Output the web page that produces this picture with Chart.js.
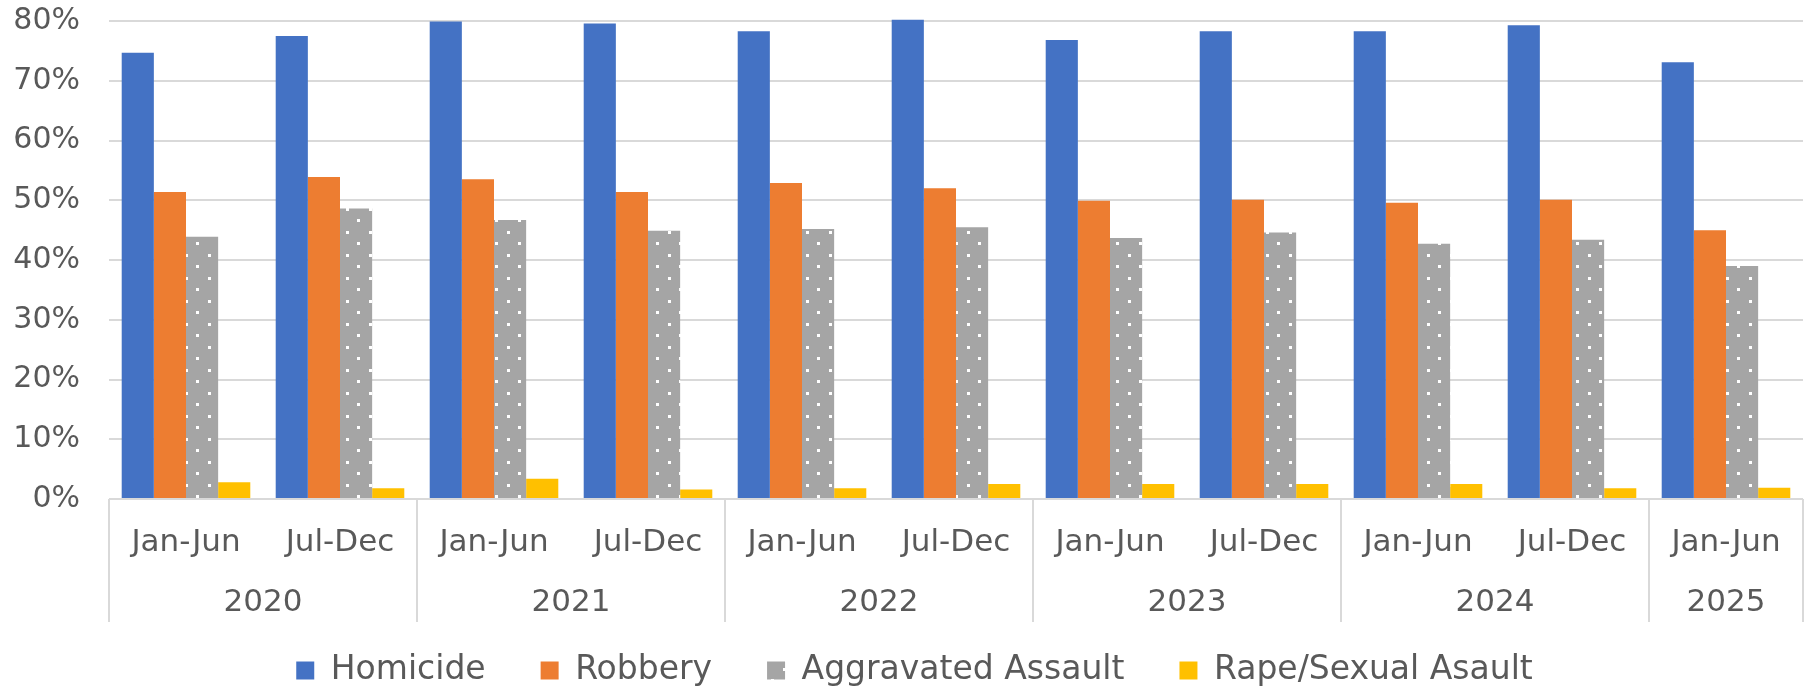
<!DOCTYPE html>
<html>
<head>
<meta charset="utf-8">
<style>
  html, body { margin: 0; padding: 0; background: #ffffff; }
  #wrap { width: 1816px; height: 693px; position: relative; }
</style>
<script src="https://cdn.jsdelivr.net/npm/chart.js@4.4.1/dist/chart.umd.min.js"></script>
</head>
<body>
<div id="wrap"><canvas id="chart" width="1816" height="693"></canvas></div>
<script>
// ---- Data ----
const periods = ['Jan-Jun', 'Jul-Dec', 'Jan-Jun', 'Jul-Dec', 'Jan-Jun', 'Jul-Dec',
                 'Jan-Jun', 'Jul-Dec', 'Jan-Jun', 'Jul-Dec', 'Jan-Jun'];
const years = ['2020', '2021', '2022', '2023', '2024', '2025'];
const periodsPerYear = [2, 2, 2, 2, 2, 1];

const homicide          = [74.7, 77.5, 79.9, 79.6, 78.3, 80.2, 76.8, 78.3, 78.3, 79.3, 73.1];
const robbery           = [51.4, 53.9, 53.5, 51.4, 52.9, 52.0, 49.9, 50.1, 49.6, 50.1, 45.0];
const aggravatedAssault = [43.9, 48.6, 46.7, 44.9, 45.2, 45.5, 43.7, 44.6, 42.7, 43.4, 39.0];
const rapeSexualAssault = [2.8, 1.8, 3.4, 1.6, 1.8, 2.5, 2.5, 2.5, 2.5, 1.8, 1.9];

const seriesNames = ['Homicide', 'Robbery', 'Aggravated Assault', 'Rape/Sexual Asault'];
const yMin = 0, yMax = 80, yStep = 10;

// ---- Styles ----
const FONT = '"DejaVu Sans", Verdana, sans-serif';
const TEXT = '#595959';
const GRID = '#d9d9d9';

function dotPattern() {
  const c = document.createElement('canvas');
  c.width = 23; c.height = 23;
  const g = c.getContext('2d');
  g.fillStyle = '#a5a5a5';
  g.fillRect(0, 0, 23, 23);
  g.fillStyle = '#ffffff';
  g.fillRect(1, 1, 3, 3);
  g.fillRect(12, 12, 3, 3);
  return g.createPattern(c, 'repeat');
}

const yearAxisPlugin = {
  id: 'yearAxis',
  afterDraw(chart) {
    const { ctx, chartArea } = chart;
    const xs = chart.scales.x;
    const bottom = chartArea.bottom;
    const edge = i => {
      if (i <= 0) return chartArea.left;
      if (i >= periods.length) return chartArea.right;
      return (xs.getPixelForValue(i - 1) + xs.getPixelForValue(i)) / 2;
    };
    ctx.save();
    ctx.font = '31px ' + FONT;
    ctx.fillStyle = TEXT;
    ctx.textAlign = 'center';
    ctx.textBaseline = 'middle';
    ctx.strokeStyle = GRID;
    ctx.lineWidth = 2;
    let idx = 0;
    const bounds = [];
    years.forEach((yr, k) => {
      const s = idx, e = idx + periodsPerYear[k];
      const x0 = edge(s), x1 = edge(e);
      ctx.fillText(yr, (x0 + x1) / 2, bottom + 104);
      bounds.push(x0);
      if (k === years.length - 1) bounds.push(x1);
      idx = e;
    });
    bounds.forEach(x => {
      ctx.beginPath();
      ctx.moveTo(x, bottom);
      ctx.lineTo(x, bottom + 123);
      ctx.stroke();
    });
    ctx.restore();
  }
};

const legendShiftPlugin = {
  id: 'legendShift',
  afterLayout(chart) {
    const l = chart.legend;
    if (l) {
      l.top += 4; l.bottom += 4;
      l.left += 13; l.right += 13;
    }
  }
};

const colors = ['#4472c4', '#ed7d31', dotPattern(), '#ffc000'];
const seriesData = [homicide, robbery, aggravatedAssault, rapeSexualAssault];

new Chart(document.getElementById('chart'), {
  type: 'bar',
  data: {
    labels: periods,
    datasets: seriesNames.map((name, i) => ({
      label: name,
      data: seriesData[i],
      backgroundColor: colors[i],
      borderWidth: 0,
      categoryPercentage: 0.835,
      barPercentage: 1.0,
      clip: false
    }))
  },
  options: {
    responsive: false,
    animation: false,
    events: [],
    layout: { padding: { top: 21, right: 13, left: 0, bottom: 0 } },
    plugins: {
      title: { display: false },
      tooltip: { enabled: false },
      legend: {
        display: true,
        position: 'bottom',
        labels: {
          boxWidth: 18,
          boxHeight: 18,
          padding: 55,
          color: TEXT,
          font: { family: FONT, size: 33 }
        }
      }
    },
    scales: {
      x: {
        grid: { display: false, drawTicks: false },
        border: { display: false },
        ticks: {
          color: TEXT,
          font: { family: FONT, size: 31 },
          padding: 25,
          maxRotation: 0,
          autoSkip: false
        },
        afterFit(scale) {
          scale.height = 96;
          scale.paddingLeft = 0; scale.paddingRight = 0;
        }
      },
      y: {
        min: yMin,
        max: yMax,
        grid: { color: GRID, lineWidth: 2, drawTicks: false },
        border: { display: false },
        ticks: {
          stepSize: yStep,
          color: TEXT,
          font: { family: FONT, size: 30 },
          padding: 29,
          callback: v => v + '%'
        },
        afterFit(scale) {
          scale.width = 109;
          scale.paddingTop = 0; scale.paddingBottom = 0;
        }
      }
    }
  },
  plugins: [yearAxisPlugin, legendShiftPlugin]
});
</script>
</body>
</html>
